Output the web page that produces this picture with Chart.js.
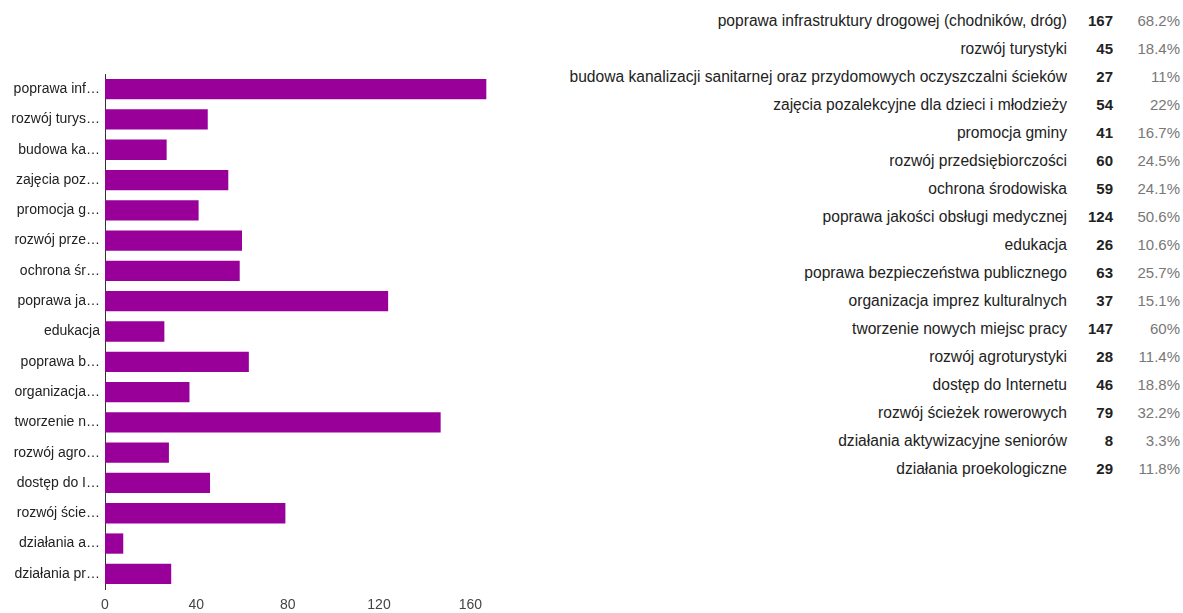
<!DOCTYPE html>
<html lang="pl">
<head>
<meta charset="UTF-8">
<title>Ankieta</title>
<script src="https://cdn.jsdelivr.net/npm/chart.js@4"></script>
<style>
  body { margin: 0; background: #fff; font-family: "Liberation Sans", Arial, sans-serif; }
  #wrap { position: absolute; left: 0; top: 0; width: 540px; height: 613px; }
  #legend { position: absolute; right: 3px; top: 7px; color: #222; }
  #legend .row { display: flex; height: 28px; line-height: 28px; justify-content: flex-end; }
  #legend .lab { text-align: right; white-space: nowrap; font-size: 15.6px; }
  #legend .cnt { width: 46px; text-align: right; font-weight: bold; font-size: 15px; }
  #legend .pct { width: 67px; text-align: right; color: #777; font-size: 15px; }
</style>
</head>
<body>
<div id="wrap"><canvas id="chart" width="540" height="613"></canvas></div>
<div id="legend"></div>

<script>
    var categories = [
        "poprawa infrastruktury drogowej (chodników, dróg)",
        "rozwój turystyki",
        "budowa kanalizacji sanitarnej oraz przydomowych oczyszczalni ścieków",
        "zajęcia pozalekcyjne dla dzieci i młodzieży",
        "promocja gminy",
        "rozwój przedsiębiorczości",
        "ochrona środowiska",
        "poprawa jakości obsługi medycznej",
        "edukacja",
        "poprawa bezpieczeństwa publicznego",
        "organizacja imprez kulturalnych",
        "tworzenie nowych miejsc pracy",
        "rozwój agroturystyki",
        "dostęp do Internetu",
        "rozwój ścieżek rowerowych",
        "działania aktywizacyjne seniorów",
        "działania proekologiczne"
    ];
    var shortLabels = [
        "poprawa inf…", "rozwój turys…", "budowa ka…", "zajęcia poz…", "promocja g…",
        "rozwój prze…", "ochrona śr…", "poprawa ja…", "edukacja", "poprawa b…",
        "organizacja…", "tworzenie n…", "rozwój agro…", "dostęp do I…", "rozwój ście…",
        "działania a…", "działania pr…"
    ];
    var counts = [167, 45, 27, 54, 41, 60, 59, 124, 26, 63, 37, 147, 28, 46, 79, 8, 29];
    var percents = ["68.2%", "18.4%", "11%", "22%", "16.7%", "24.5%", "24.1%", "50.6%", "10.6%",
        "25.7%", "15.1%", "60%", "11.4%", "18.8%", "32.2%", "3.3%", "11.8%"];
    var xTicks = [0, 40, 80, 120, 160];

    // summary table on the right
    var legend = document.getElementById("legend");
    categories.forEach(function (c, i) {
        var row = document.createElement("div");
        row.className = "row";
        row.innerHTML = '<span class="lab"></span><span class="cnt"></span><span class="pct"></span>';
        row.children[0].textContent = c;
        row.children[1].textContent = counts[i];
        row.children[2].textContent = percents[i];
        legend.appendChild(row);
    });

    var ctx = document.getElementById("chart").getContext("2d");
    var chart = new Chart(ctx, {
        type: 'bar',
        data: {
            labels: shortLabels,
            datasets: [{
                label: "odpowiedzi",
                data: counts,
                backgroundColor: "#990099",
                borderWidth: 0,
                categoryPercentage: 1,
                barPercentage: 0.67
            }]
        },
        options: {
            indexAxis: 'y',
            responsive: false,
            animation: false,
            layout: { padding: { left: 0, right: 24, top: 74, bottom: 0 } },
            plugins: { legend: { display: false }, tooltip: { enabled: false } },
            scales: {
                x: {
                    min: 0,
                    max: 180,
                    afterBuildTicks: function (scale) {
                        scale.ticks = xTicks.map(function (v) { return { value: v }; });
                    },
                    afterFit: function (scale) { scale.height = 24; },
                    grid: { display: false, drawTicks: false },
                    border: { display: false },
                    ticks: { color: "#444", padding: 8, font: { family: "Liberation Sans", size: 14 } }
                },
                y: {
                    afterFit: function (scale) { scale.width = 105; },
                    grid: { display: false, drawTicks: false },
                    border: { display: true, color: "#333", width: 1 },
                    ticks: { color: "#222", padding: 5, font: { family: "Liberation Sans", size: 14 } }
                }
            }
        }
    });
</script>
</body>
</html>
